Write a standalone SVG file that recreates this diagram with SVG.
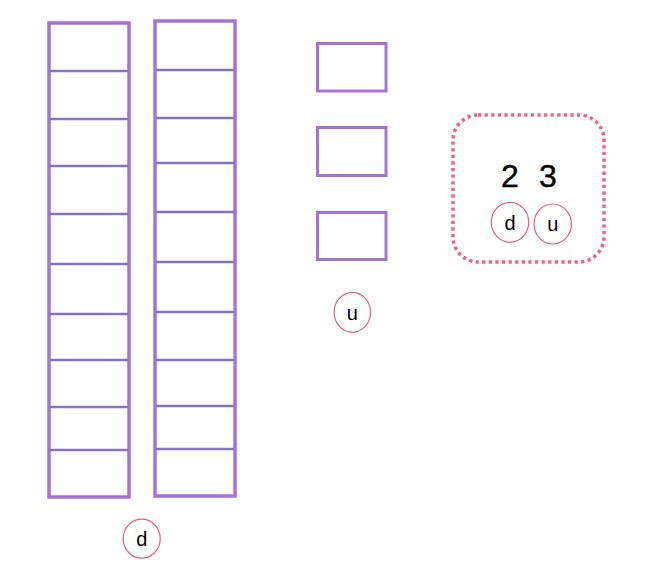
<svg xmlns="http://www.w3.org/2000/svg" width="648" height="573" viewBox="0 0 648 573">
<style>
.outer{fill:none;stroke:#a872d4;stroke-width:3.5}
.div{stroke:#8674c2;stroke-width:2.6}
.box{fill:none;stroke:#a872d4;stroke-width:3}
.lab{fill:#fff;stroke:#ea5d7c;stroke-width:1.2}
.t{font-family:"Liberation Sans",Arial,sans-serif;font-size:20px;fill:#000;text-anchor:middle}
.big{font-family:"Liberation Sans",Arial,sans-serif;font-size:32px;fill:#000;text-anchor:middle;stroke:#000;stroke-width:0.4}
</style>
<rect width="648" height="573" fill="#fff"/>
<g id="tens1">
<rect class="outer" x="49" y="23" width="80" height="474"/>
<path class="div" d="M50 71H128M50 119H128M50 166H128M50 214H128M50 264H128M50 314H128M50 360H128M50 407H128M50 450H128"/>
</g>
<g id="tens2">
<rect class="outer" x="155" y="21" width="80" height="475"/>
<path class="div" d="M156 70H234M156 118H234M156 163H234M156 212H234M156 262H234M156 312H234M156 360H234M156 406H234M156 449H234"/>
</g>
<g id="unit1"><rect class="box" x="317.5" y="43.5" width="68.5" height="47.5"/></g>
<g id="unit2"><rect class="box" x="317.5" y="127.5" width="68.5" height="48"/></g>
<g id="unit3"><rect class="box" x="317.5" y="212.5" width="68.5" height="47"/></g>
<g id="label-d">
<ellipse class="lab" cx="141.7" cy="538.7" rx="18.5" ry="19.5"/>
<text class="t" x="141.7" y="546">d</text>
</g>
<g id="label-u">
<ellipse class="lab" cx="352.3" cy="312.3" rx="18.2" ry="20"/>
<text class="t" x="352.3" y="319.5">u</text>
</g>
<g id="number">
<rect x="453" y="115" width="151" height="147" rx="25" ry="25" fill="none" stroke="#ee6388" stroke-width="3.5" stroke-dasharray="3.3 3.3"/>
<text class="big" x="510" y="186.5">2</text>
<text class="big" x="548" y="186.5">3</text>
<ellipse class="lab" cx="510" cy="222.3" rx="18.7" ry="20"/>
<text class="t" x="510" y="229.5">d</text>
<ellipse class="lab" cx="552.7" cy="224" rx="18.7" ry="20"/>
<text class="t" x="552.7" y="231">u</text>
</g>
<g id="connectors"/>
</svg>
